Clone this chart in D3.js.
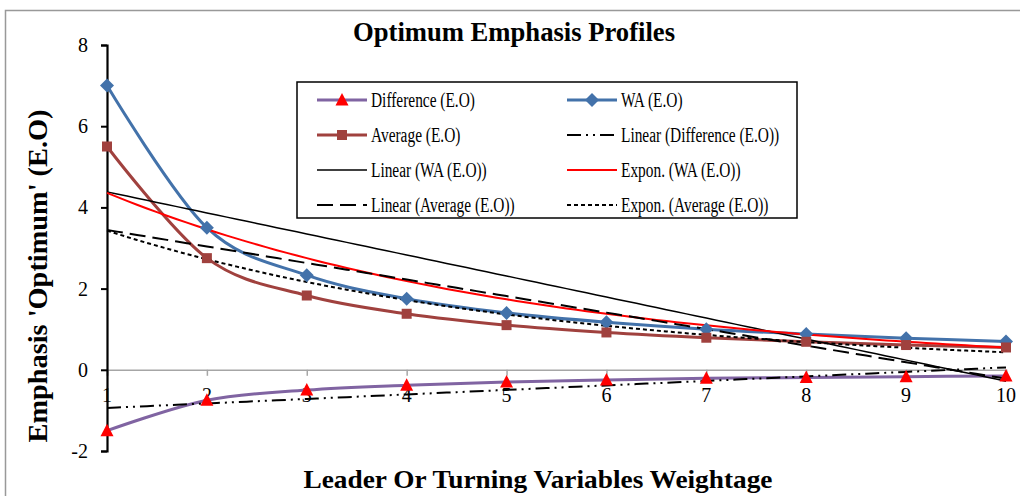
<!DOCTYPE html>
<html><head><meta charset="utf-8">
<script src="https://cdn.jsdelivr.net/npm/d3@7"></script>
<style>
html,body{margin:0;padding:0;background:#fff;}
svg{display:block;font-family:"Liberation Serif","Times New Roman",serif;}
</style></head>
<body>
<svg id="chart" width="1020" height="496"></svg>
<script>
// ---- data ----
const categories = [1, 2, 3, 4, 5, 6, 7, 8, 9, 10];
const waValues = [7.0, 3.5, 2.33, 1.75, 1.4, 1.17, 1.0, 0.88, 0.78, 0.7];
const averageValues = [5.5, 2.75, 1.83, 1.38, 1.1, 0.92, 0.79, 0.69, 0.61, 0.55];
const differenceValues = [-1.5, -0.75, -0.5, -0.38, -0.3, -0.25, -0.21, -0.19, -0.17, -0.15];
const yTicks = [-2, 0, 2, 4, 6, 8];
const titleText = "Optimum Emphasis Profiles";
const xTitle = "Leader Or Turning Variables Weightage";
const yTitle = "Emphasis 'Optimum' (E.O)";

// ---- trendline fits (least squares, as the spreadsheet computes them) ----
function linearFit(xs, ys) {
  const mx = d3.mean(xs), my = d3.mean(ys);
  let sxy = 0, sxx = 0;
  xs.forEach((x, i) => { sxy += (x - mx) * (ys[i] - my); sxx += (x - mx) * (x - mx); });
  const b = sxy / sxx, a = my - b * mx;
  return x => a + b * x;
}
function expFit(xs, ys) {
  const lf = linearFit(xs, ys.map(Math.log));
  return x => Math.exp(lf(x));
}

const svg = d3.select("#chart");
const W = 1020, H = 496;
const x = d3.scaleLinear().domain([1, 10]).range([107, 1006]);
const y = d3.scaleLinear().domain([-2, 8]).range([451, 45]);

// outer border
svg.append("rect").attr("x", 5.5).attr("y", 10.5).attr("width", W).attr("height", H)
  .attr("fill", "none").attr("stroke", "#999").attr("stroke-width", 1.5);

// title
svg.append("text").attr("x", 514).attr("y", 41).attr("text-anchor", "middle")
  .attr("font-size", 27).attr("font-weight", "bold")
  .attr("textLength", 322).attr("lengthAdjust", "spacingAndGlyphs").text(titleText);

// x tick labels (drawn first, so "1" sits under the y axis line)
svg.append("g").selectAll("text").data(categories).join("text")
  .attr("x", d => x(d)).attr("y", 402).attr("text-anchor", "middle")
  .attr("font-size", 20).text(d => d);

// x axis at y=0
const xAxis = d3.axisBottom(x).tickValues(categories).tickSize(6).tickFormat("");
const gx = svg.append("g").attr("transform", `translate(0,${y(0)})`).call(xAxis);
gx.selectAll("path,line").attr("stroke", "#a6a6a6").attr("stroke-width", 1.5);

// y axis
const yAxis = d3.axisLeft(y).tickValues(yTicks).tickSize(6).tickPadding(13).tickFormat(d => String(d));
const gy = svg.append("g").attr("transform", `translate(${x(1)},0)`).call(yAxis);
gy.select(".domain").attr("stroke", "#000").attr("stroke-width", 2.2);
gy.selectAll(".tick line").attr("stroke", "#000").attr("stroke-width", 2);
gy.selectAll(".tick text").attr("font-size", 20).attr("font-family", "Liberation Serif, serif").attr("fill", "#000");

// axis titles
svg.append("text").attr("transform", "translate(47,276) rotate(-90)").attr("text-anchor", "middle")
  .attr("font-size", 27).attr("font-weight", "bold")
  .attr("textLength", 333).attr("lengthAdjust", "spacingAndGlyphs").text(yTitle);
svg.append("text").attr("x", 538).attr("y", 488).attr("text-anchor", "middle")
  .attr("font-size", 26).attr("font-weight", "bold")
  .attr("textLength", 469).attr("lengthAdjust", "spacingAndGlyphs").text(xTitle);

// series definitions
const series = [
  { name: "Difference (E.O)", values: differenceValues, color: "#8064A2", marker: "triangle", mcolor: "#FF0000" },
  { name: "WA (E.O)", values: waValues, color: "#4372AA", marker: "diamond", mcolor: "#4372AA" },
  { name: "Average (E.O)", values: averageValues, color: "#A0413E", marker: "square", mcolor: "#A0413E" }
];
const byName = Object.fromEntries(series.map(s => [s.name, s]));
const trends = [
  { name: "Linear (Difference (E.O))", fn: linearFit(categories, differenceValues), color: "#000", width: 2, dash: "14,5,2,5,2,5" },
  { name: "Linear (WA (E.O))", fn: linearFit(categories, waValues), color: "#000", width: 1.5, dash: null },
  { name: "Expon. (WA (E.O))", fn: expFit(categories, waValues), color: "#FF0000", width: 2, dash: null },
  { name: "Linear (Average (E.O))", fn: linearFit(categories, averageValues), color: "#000", width: 2, dash: "16,7" },
  { name: "Expon. (Average (E.O))", fn: expFit(categories, averageValues), color: "#000", width: 2, dash: "4,3" }
];
const trendBy = Object.fromEntries(trends.map(t => [t.name, t]));

const smooth = d3.line().x(d => x(d[0])).y(d => y(d[1])).curve(d3.curveCatmullRom.alpha(0));
const straight = d3.line().x(d => x(d[0])).y(d => y(d[1]));

// series lines
series.forEach(s => {
  svg.append("path").attr("d", smooth(categories.map((c, i) => [c, s.values[i]])))
    .attr("fill", "none").attr("stroke", s.color).attr("stroke-width", 3);
});

// trendlines
const fine = d3.range(1, 10.001, 0.1);
trends.forEach(t => {
  svg.append("path").attr("d", straight(fine.map(c => [c, t.fn(c)])))
    .attr("fill", "none").attr("stroke", t.color).attr("stroke-width", t.width)
    .attr("stroke-dasharray", t.dash);
});

// markers
function drawMarker(g, type, cx, cy, color) {
  if (type === "triangle") {
    g.append("path").attr("d", `M${cx},${cy - 7}L${cx + 6.5},${cy + 5.5}L${cx - 6.5},${cy + 5.5}Z`).attr("fill", color);
  } else if (type === "diamond") {
    g.append("path").attr("d", `M${cx},${cy - 7}L${cx + 7},${cy}L${cx},${cy + 7}L${cx - 7},${cy}Z`).attr("fill", color);
  } else {
    g.append("rect").attr("x", cx - 5).attr("y", cy - 5).attr("width", 10).attr("height", 10).attr("fill", color);
  }
}
const mg = svg.append("g");
series.forEach(s => {
  categories.forEach((c, i) => drawMarker(mg, s.marker, x(c), y(s.values[i]), s.mcolor));
});

// legend
const lg = svg.append("g");
lg.append("rect").attr("x", 297).attr("y", 82).attr("width", 500).attr("height", 136)
  .attr("fill", "#fff").attr("stroke", "#000").attr("stroke-width", 1.5);
const legendItems = [
  { key: "Difference (E.O)", col: 0, row: 0 },
  { key: "WA (E.O)", col: 1, row: 0 },
  { key: "Average (E.O)", col: 0, row: 1 },
  { key: "Linear (Difference (E.O))", col: 1, row: 1 },
  { key: "Linear (WA (E.O))", col: 0, row: 2 },
  { key: "Expon. (WA (E.O))", col: 1, row: 2 },
  { key: "Linear (Average (E.O))", col: 0, row: 3 },
  { key: "Expon. (Average (E.O))", col: 1, row: 3 }
];
const colX = [317, 567], rowY = [100, 135, 170, 205];
legendItems.forEach(it => {
  const x0 = colX[it.col], yy = rowY[it.row];
  if (byName[it.key]) {
    const s = byName[it.key];
    lg.append("line").attr("x1", x0).attr("x2", x0 + 50).attr("y1", yy).attr("y2", yy)
      .attr("stroke", s.color).attr("stroke-width", 3);
    drawMarker(lg, s.marker, x0 + 25, yy, s.mcolor);
  } else {
    const t = trendBy[it.key];
    lg.append("line").attr("x1", x0).attr("x2", x0 + 50).attr("y1", yy).attr("y2", yy)
      .attr("stroke", t.color).attr("stroke-width", t.width).attr("stroke-dasharray", t.dash);
  }
  lg.append("text").attr("transform", `translate(${x0 + 54},${yy + 7}) scale(0.77,1)`)
    .attr("font-size", 20).text(it.key);
});
</script>
</body></html>
